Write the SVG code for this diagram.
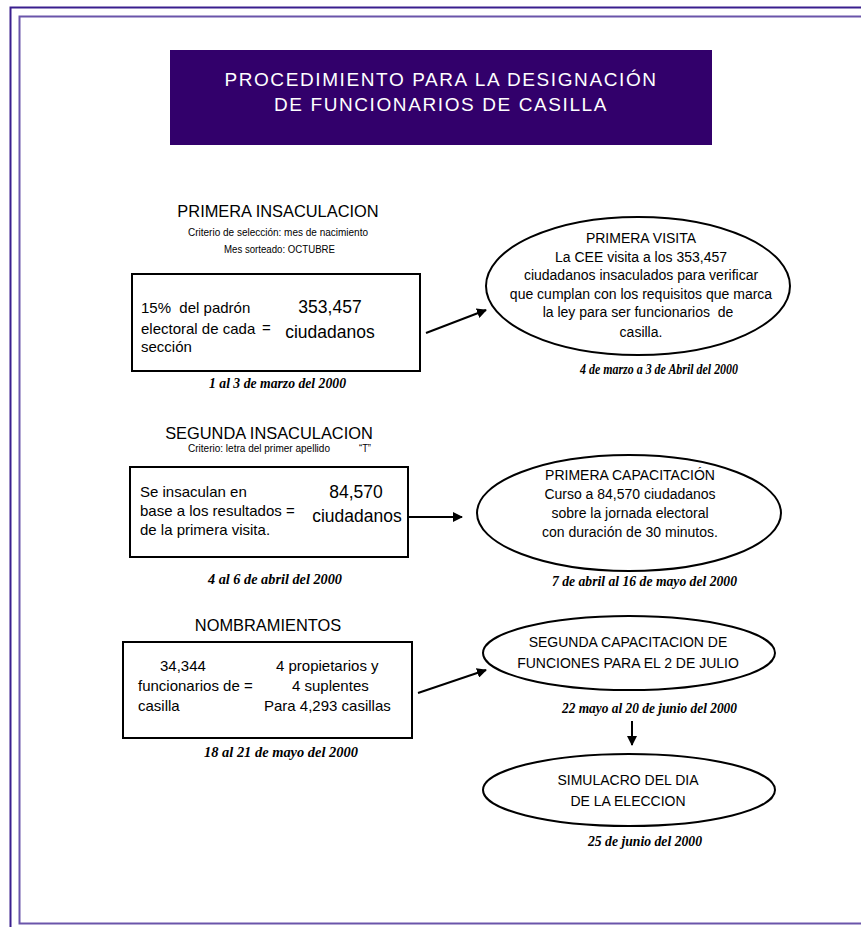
<svg xmlns="http://www.w3.org/2000/svg" width="861" height="927" viewBox="0 0 861 927">
<style>
.sans{font-family:"Liberation Sans",Arial,sans-serif;fill:#000}
.hdr{font-size:16.4px;text-anchor:middle}
.small{font-size:10px;font-family:"Liberation Sans",Arial,sans-serif;fill:#000}
.body{font-size:15px}
.big{font-size:17.5px;text-anchor:middle}
.ell{font-size:14px;text-anchor:middle}
.date{font-family:"Liberation Serif","Times New Roman",serif;font-style:italic;font-weight:bold;font-size:14.5px;fill:#000}
.box{fill:#fff;stroke:#000;stroke-width:2}
.oval{fill:#fff;stroke:#000;stroke-width:2}
.conn{stroke:#000;stroke-width:2;fill:none}
.title{font-family:"Liberation Sans",Arial,sans-serif;font-size:19px;fill:#fff;text-anchor:middle;letter-spacing:1.6px}
</style>
<defs>
<marker id="ah" viewBox="0 0 10 10" refX="9" refY="5" markerWidth="5" markerHeight="5" orient="auto" markerUnits="strokeWidth">
<path d="M0,0 L10,5 L0,10 z" fill="#000"/>
</marker>
</defs>
<rect width="861" height="927" fill="#fff"/>
<g id="frame">
<rect x="10.5" y="7.5" width="900" height="960" fill="none" stroke="#3a1f8e" stroke-width="2"/>
<rect x="19.5" y="16.5" width="900" height="907" fill="none" stroke="#6a55aa" stroke-width="2"/>
</g>
<g id="title">
<rect x="170" y="50" width="542" height="95" fill="#32006b"/>
<text class="title" x="441" y="86">PROCEDIMIENTO PARA LA DESIGNACIÓN</text>
<text class="title" x="441" y="111">DE FUNCIONARIOS DE CASILLA</text>
</g>
<g id="primera-insaculacion">
<text class="sans hdr" x="278" y="217">PRIMERA INSACULACION</text>
<text class="small" x="188" y="236" textLength="180" lengthAdjust="spacingAndGlyphs">Criterio de selección: mes de nacimiento</text>
<text class="small" x="224" y="253" textLength="111" lengthAdjust="spacingAndGlyphs">Mes sorteado: OCTUBRE</text>
<rect class="box" x="132" y="274" width="288" height="97"/>
<text class="sans body" x="141" y="313" xml:space="preserve">15%  del padrón</text>
<text class="sans body" x="141" y="334">electoral de cada</text>
<text class="sans body" x="262" y="333">=</text>
<text class="sans body" x="141" y="352">sección</text>
<text class="sans big" x="330" y="313">353,457</text>
<text class="sans big" x="330" y="338">ciudadanos</text>
<text class="date" x="209" y="388" textLength="137" lengthAdjust="spacingAndGlyphs">1 al 3 de marzo del 2000</text>
</g>
<g id="primera-visita">
<ellipse class="oval" cx="638" cy="286" rx="152" ry="69"/>
<text class="sans ell" x="641" y="243">PRIMERA VISITA</text>
<text class="sans ell" x="641" y="262">La CEE visita a los 353,457</text>
<text class="sans ell" x="641" y="280">ciudadanos insaculados para verificar</text>
<text class="sans ell" x="641" y="299">que cumplan con los requisitos que marca</text>
<text class="sans ell" x="638" y="317" xml:space="preserve">la ley para ser funcionarios  de</text>
<text class="sans ell" x="641" y="337">casilla.</text>
<text class="date" x="580" y="374" textLength="158" lengthAdjust="spacingAndGlyphs">4 de marzo a 3 de Abril del 2000</text>
</g>
<g id="segunda-insaculacion">
<text class="sans hdr" x="269" y="439">SEGUNDA INSACULACION</text>
<text class="small" x="188" y="452" textLength="142" lengthAdjust="spacingAndGlyphs">Criterio: letra del primer apellido</text>
<text class="small" x="359" y="452" textLength="12" lengthAdjust="spacingAndGlyphs">“T”</text>
<rect class="box" x="130" y="467" width="278" height="90"/>
<text class="sans body" x="140" y="497">Se insaculan en</text>
<text class="sans body" x="140" y="516">base a los resultados =</text>
<text class="sans body" x="140" y="535">de la primera visita.</text>
<text class="sans big" x="356" y="498">84,570</text>
<text class="sans big" x="357" y="522">ciudadanos</text>
<text class="date" x="208" y="584" textLength="134" lengthAdjust="spacingAndGlyphs">4 al 6 de abril del 2000</text>
</g>
<g id="primera-capacitacion">
<ellipse class="oval" cx="629" cy="513" rx="152" ry="58"/>
<text class="sans ell" x="630" y="480">PRIMERA CAPACITACIÓN</text>
<text class="sans ell" x="630" y="499">Curso a 84,570 ciudadanos</text>
<text class="sans ell" x="630" y="518">sobre la jornada electoral</text>
<text class="sans ell" x="630" y="537">con duración de 30 minutos.</text>
<text class="date" x="552" y="586" textLength="185" lengthAdjust="spacingAndGlyphs">7 de abril al 16 de mayo del 2000</text>
</g>
<g id="nombramientos">
<text class="sans hdr" x="268" y="631">NOMBRAMIENTOS</text>
<rect class="box" x="123" y="642" width="289" height="96"/>
<text class="sans body" x="160" y="671">34,344</text>
<text class="sans body" x="138" y="691">funcionarios de =</text>
<text class="sans body" x="138" y="711">casilla</text>
<text class="sans body" x="276" y="671">4 propietarios y</text>
<text class="sans body" x="292" y="691">4 suplentes</text>
<text class="sans body" x="264" y="711">Para 4,293 casillas</text>
<text class="date" x="204" y="757" textLength="154" lengthAdjust="spacingAndGlyphs">18 al 21 de mayo del 2000</text>
</g>
<g id="segunda-capacitacion">
<ellipse class="oval" cx="629" cy="653" rx="146" ry="37"/>
<text class="sans ell" x="628" y="647">SEGUNDA CAPACITACION DE</text>
<text class="sans ell" x="628" y="668">FUNCIONES PARA EL 2 DE JULIO</text>
<text class="date" x="562" y="713" textLength="175" lengthAdjust="spacingAndGlyphs">22 mayo al 20 de junio del 2000</text>
</g>
<g id="simulacro">
<ellipse class="oval" cx="629" cy="790" rx="146" ry="36"/>
<text class="sans ell" x="628" y="785">SIMULACRO DEL DIA</text>
<text class="sans ell" x="628" y="806">DE LA ELECCION</text>
<text class="date" x="588" y="846" textLength="114" lengthAdjust="spacingAndGlyphs">25 de junio del 2000</text>
</g>
<g id="connectors">
<line class="conn" x1="426" y1="333" x2="486" y2="310" marker-end="url(#ah)"/>
<line class="conn" x1="409" y1="517" x2="462" y2="517" marker-end="url(#ah)"/>
<line class="conn" x1="418" y1="693" x2="486" y2="670" marker-end="url(#ah)"/>
<line class="conn" x1="632" y1="721" x2="632" y2="745" marker-end="url(#ah)"/>
</g>
</svg>
